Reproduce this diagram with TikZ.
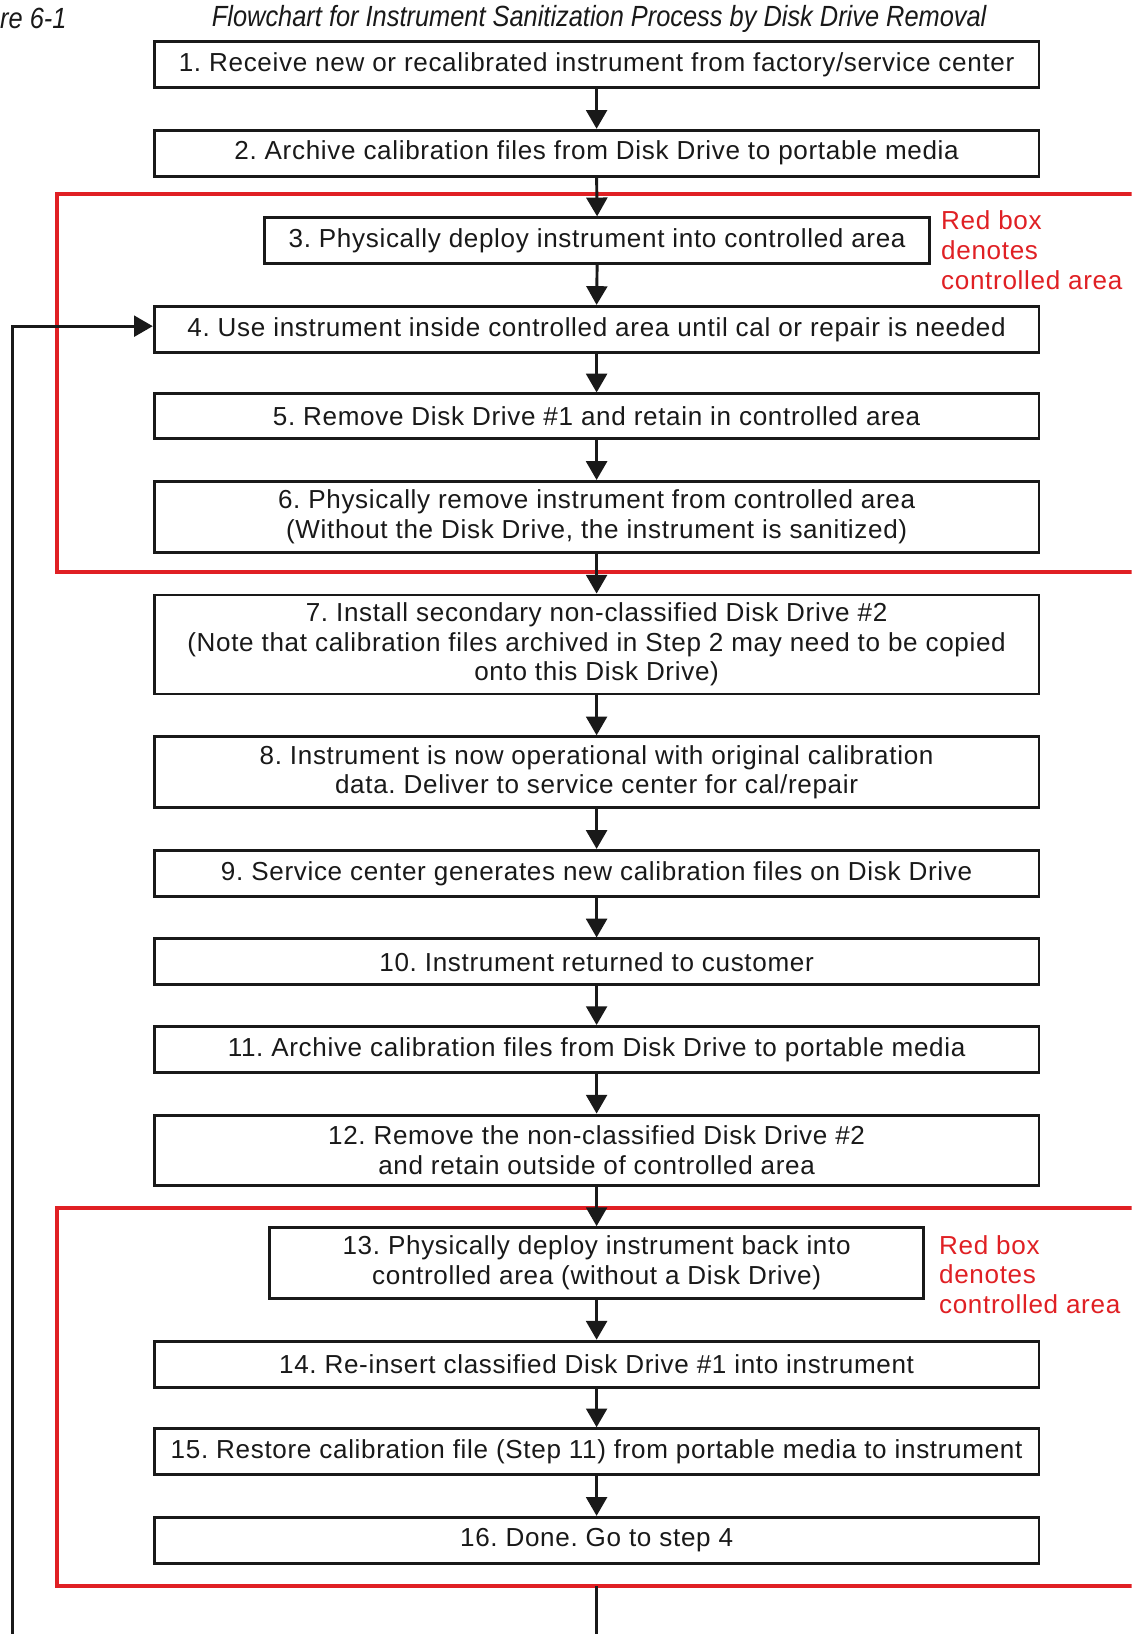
\documentclass[tikz,border=0pt]{standalone}
\usepackage{fontspec}
\setmainfont{Liberation Sans}[LetterSpace=2.6]
\newfontfamily\capfont[FakeStretch=0.87]{Liberation Sans}
\usetikzlibrary{arrows.meta,calc}
\definecolor{areared}{RGB}{224,32,36}
\begin{document}
\frenchspacing
\begin{tikzpicture}[x=1pt,y=-1pt,
  stepbox/.style={draw=black!90, line width=2.8pt, fill=white, minimum width=849pt, inner sep=0pt, align=center, font=\fontsize{25}{28.5}\selectfont, text=black!90},
  conn/.style={line width=2.8pt, draw=black!90, -{Triangle[length=18pt,width=20pt]}},
  redbox/.style={draw=areared, line width=4pt},
  redlabel/.style={text=areared, align=left, anchor=west, inner sep=0pt, font=\fontsize{25}{28.5}\selectfont},
  captext/.style={inner sep=0pt, text=black!90, font=\capfont\itshape\fontsize{28}{30}\selectfont},
]
\useasboundingbox (0,0) rectangle (1086,1568);
\clip (0,0) rectangle (1086,1568);
\fill[white] (0,0) rectangle (1086,1568);

% caption
\node[captext, anchor=west] (figno) at (0,18) {re 6-1};
\node[captext] (title) at (575,18) {Flowchart for Instrument Sanitization Process by Disk Drive Removal};

% red controlled areas
\draw[redbox] (1100,186) -- (55,186) -- (55,549) -- (1100,549);
\draw[redbox] (1100,1159) -- (55,1159) -- (55,1522) -- (1100,1522);
\node[redlabel] (rl1) at (903,240) {Red box\\denotes\\controlled area};
\node[redlabel] (rl2) at (901,1223) {Red box\\denotes\\controlled area};

% steps
\node[stepbox, minimum height=44pt] (b1) at (572.5,62) {1. Receive new or recalibrated instrument from factory/service center};
\node[stepbox, minimum height=44pt] (b2) at (572.5,147) {2. Archive calibration files from Disk Drive to portable media};
\node[stepbox, minimum height=44pt, minimum width=638pt] (b3) at (573,231) {3. Physically deploy instrument into controlled area};
\node[stepbox, minimum height=44pt] (b4) at (572.5,316) {4. Use instrument inside controlled area until cal or repair is needed};
\node[stepbox, minimum height=43pt] (b5) at (572.5,399.5) {5. Remove Disk Drive \#1 and retain in controlled area};
\node[stepbox, minimum height=68pt] (b6) at (572.5,496) {6. Physically remove instrument from controlled area\\(Without the Disk Drive, the instrument is sanitized)};
\node[stepbox, minimum height=95pt] (b7) at (572.5,618.5) {7. Install secondary non-classified Disk Drive \#2\\(Note that calibration files archived in Step 2 may need to be copied\\onto this Disk Drive)};
\node[stepbox, minimum height=68pt] (b8) at (572.5,741) {8. Instrument is now operational with original calibration\\data. Deliver to service center for cal/repair};
\node[stepbox, minimum height=44pt] (b9) at (572.5,838) {9. Service center generates new calibration files on Disk Drive};
\node[stepbox, minimum height=44pt] (b10) at (572.5,923) {10. Instrument returned to customer};
\node[stepbox, minimum height=44pt] (b11) at (572.5,1007) {11. Archive calibration files from Disk Drive to portable media};
\node[stepbox, minimum height=68pt] (b12) at (572.5,1104) {12. Remove the non-classified Disk Drive \#2\\and retain outside of controlled area};
\node[stepbox, minimum height=68pt, minimum width=627pt] (b13) at (572.5,1212) {13. Physically deploy instrument back into\\controlled area (without a Disk Drive)};
\node[stepbox, minimum height=44pt] (b14) at (572.5,1309) {14. Re-insert classified Disk Drive \#1 into instrument};
\node[stepbox, minimum height=44pt] (b15) at (572.5,1393) {15. Restore calibration file (Step 11) from portable media to instrument};
\node[stepbox, minimum height=44pt] (b16) at (572.5,1478) {16. Done. Go to step 4};

% connectors
\foreach \a/\b in {b1/b2,b2/b3,b3/b4,b4/b5,b5/b6,b6/b7,b7/b8,b8/b9,b9/b10,b10/b11,b11/b12,b12/b13,b13/b14,b14/b15,b15/b16}
  \draw[conn] (\a.south) -- (\b.north);

% loop back to step 4
\coordinate (loopstart) at (572,1522);
\coordinate (loopbr) at (572,1569);
\coordinate (loopbl) at (12,1569);
\coordinate (loopup) at (12,313);
\draw[conn] (loopstart) -- (loopbr) -- (loopbl) -- (loopup) -- ($(b4.west)+(0,-3)$);
\end{tikzpicture}
\end{document}
